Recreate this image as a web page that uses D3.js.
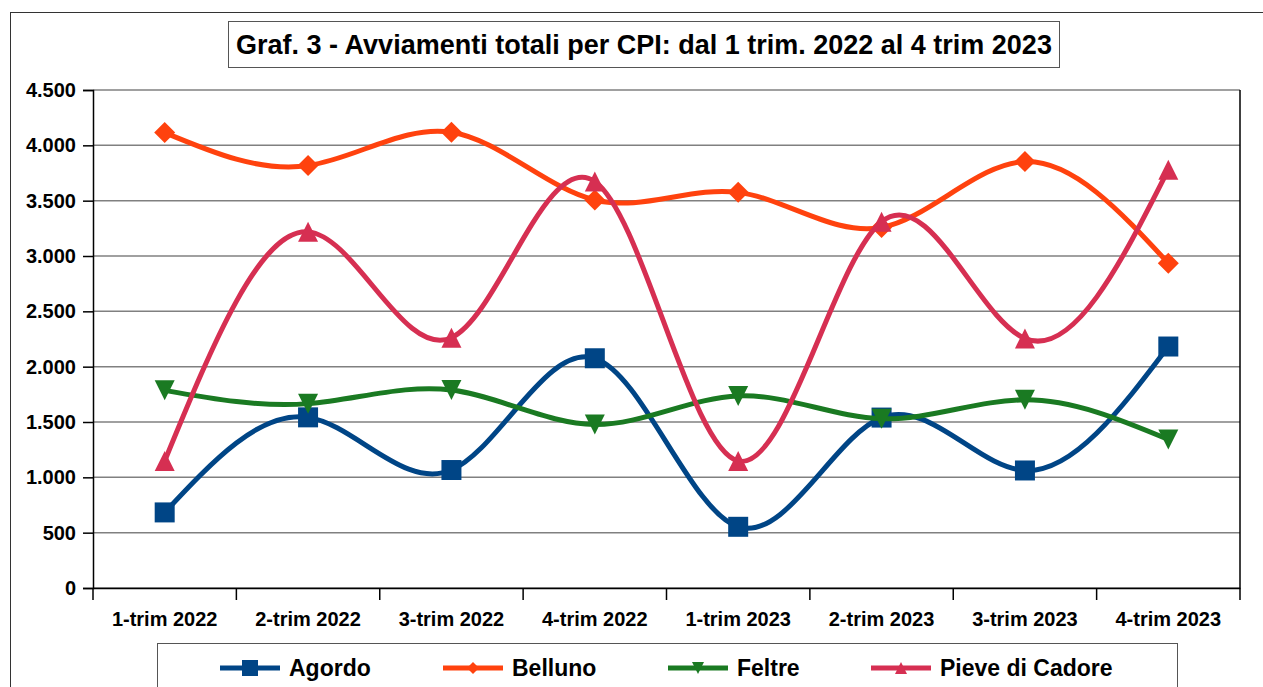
<!DOCTYPE html>
<html><head><meta charset="utf-8">
<script src="https://cdn.jsdelivr.net/npm/d3@7"></script>
<style>
body{margin:0;background:#fff;}
svg text{font-family:"Liberation Sans",Arial,sans-serif;font-weight:bold;fill:#000;}
</style></head>
<body><svg id="c" width="1263" height="687"></svg>
<script>
const categories = ["1-trim 2022","2-trim 2022","3-trim 2022","4-trim 2022","1-trim 2023","2-trim 2023","3-trim 2023","4-trim 2023"];
const agordo  = [683, 1542, 1066, 2076, 553, 1540, 1062, 2182];
const belluno = [4115, 3817, 4118, 3506, 3575, 3258, 3853, 2935];
const feltre  = [1786, 1666, 1789, 1478, 1736, 1530, 1700, 1342];
const pieve   = [1148, 3218, 2262, 3673, 1148, 3310, 2255, 3780];
const seriesNames = ["Agordo","Belluno","Feltre","Pieve di Cadore"];
const yTicks = [0,500,1000,1500,2000,2500,3000,3500,4000,4500];
const title = "Graf. 3 - Avviamenti totali per CPI: dal 1 trim. 2022 al 4 trim 2023";

const colors = ["#004586","#ff420e","#1a7a22","#d62f52"];
const shapes = ["square","diamond","down","up"];
const seriesData = [agordo, belluno, feltre, pieve];

const svg = d3.select("#c");
const L=93, R=1240, T=90, B=588;
const FONT = "Liberation Sans, Arial, sans-serif";

// outer frame
svg.append("rect").attr("x",10.5).attr("y",12.5).attr("width",1300).attr("height",700)
  .attr("fill","none").attr("stroke","#333").attr("stroke-width",1);

const x = d3.scaleBand().domain(categories).range([L,R]);
const y = d3.scaleLinear().domain([0,4500]).range([B,T]);

// gridlines
svg.append("g").selectAll("line").data(yTicks).join("line")
  .attr("x1",L).attr("x2",R).attr("y1",d=>y(d)).attr("y2",d=>y(d))
  .attr("stroke","#808080").attr("stroke-width",1.5);

// right border
svg.append("line").attr("x1",R).attr("x2",R).attr("y1",T).attr("y2",B).attr("stroke","#000").attr("stroke-width",1.5);

// y axis
const ya = svg.append("g").attr("transform",`translate(${L},0)`)
  .call(d3.axisLeft(y).tickValues(yTicks).tickSize(10).tickPadding(7)
    .tickFormat(d=>d3.format(",")(d).replace(/,/g,".")));
ya.attr("font-size",20).attr("font-family",FONT);
ya.select(".domain").attr("stroke","#000").attr("stroke-width",1.5);
ya.selectAll(".tick line").attr("stroke","#000").attr("stroke-width",1.5);
ya.selectAll("text").style("font-weight","bold").attr("fill","#000");

// x axis
const xa = svg.append("g").attr("transform",`translate(0,${B})`)
  .call(d3.axisBottom(x).tickSize(0).tickPadding(24));
xa.attr("font-size",20).attr("font-family",FONT);
xa.select(".domain").attr("stroke","#000").attr("stroke-width",1.5);
xa.selectAll("text").style("font-weight","bold").attr("fill","#000");
// band boundary ticks
const bounds = categories.map(c=>x(c)).concat([R]);
svg.append("g").selectAll("line").data(bounds).join("line")
  .attr("x1",d=>d).attr("x2",d=>d).attr("y1",B).attr("y2",B+12)
  .attr("stroke","#000").attr("stroke-width",1.5);

const cx = c => x(c)+x.bandwidth()/2;
const line = d3.line().x((d,i)=>cx(categories[i])).y(d=>y(d)).curve(d3.curveNatural);

function shapePath(s, r){
  if (s==="square") return `M${-r},${-r}H${r}V${r}H${-r}Z`;
  if (s==="diamond") return `M0,${-r}L${r},0L0,${r}L${-r},0Z`;
  if (s==="up") return `M0,${-r}L${r},${r}L${-r},${r}Z`;
  return `M0,${r}L${r},${-r}L${-r},${-r}Z`;
}
function drawMarker(g, k, px, py, r){
  g.append("path").attr("d", shapePath(shapes[k], r))
    .attr("transform",`translate(${px},${py})`).attr("fill",colors[k]);
}
const radii = [10, 10.5, 10, 10];

seriesData.forEach((arr,k)=>{
  const g = svg.append("g");
  g.append("path").datum(arr).attr("d",line).attr("fill","none")
    .attr("stroke",colors[k]).attr("stroke-width",5);
  arr.forEach((v,i)=>drawMarker(g,k,cx(categories[i]),y(v),radii[k]));
});

// title
const tg = svg.append("g");
tg.append("rect").attr("x",228.5).attr("y",21.5).attr("width",831).attr("height",46)
  .attr("fill","#fff").attr("stroke","#555").attr("stroke-width",1);
tg.append("text").attr("x",644).attr("y",54).attr("text-anchor","middle").attr("font-size",27).text(title);

// legend
const lg = svg.append("g");
lg.append("rect").attr("x",157.5).attr("y",643.5).attr("width",1020).attr("height",60)
  .attr("fill","#fff").attr("stroke","#555").attr("stroke-width",1);
const legX = [220, 443, 668, 871];
seriesNames.forEach((n,k)=>{
  lg.append("line").attr("x1",legX[k]).attr("x2",legX[k]+60).attr("y1",668).attr("y2",668)
    .attr("stroke",colors[k]).attr("stroke-width",5);
  drawMarker(lg,k,legX[k]+30,668,[8,6,6,6][k]);
  lg.append("text").attr("x",legX[k]+69).attr("y",676).attr("font-size",23).text(n);
});
</script></body></html>
